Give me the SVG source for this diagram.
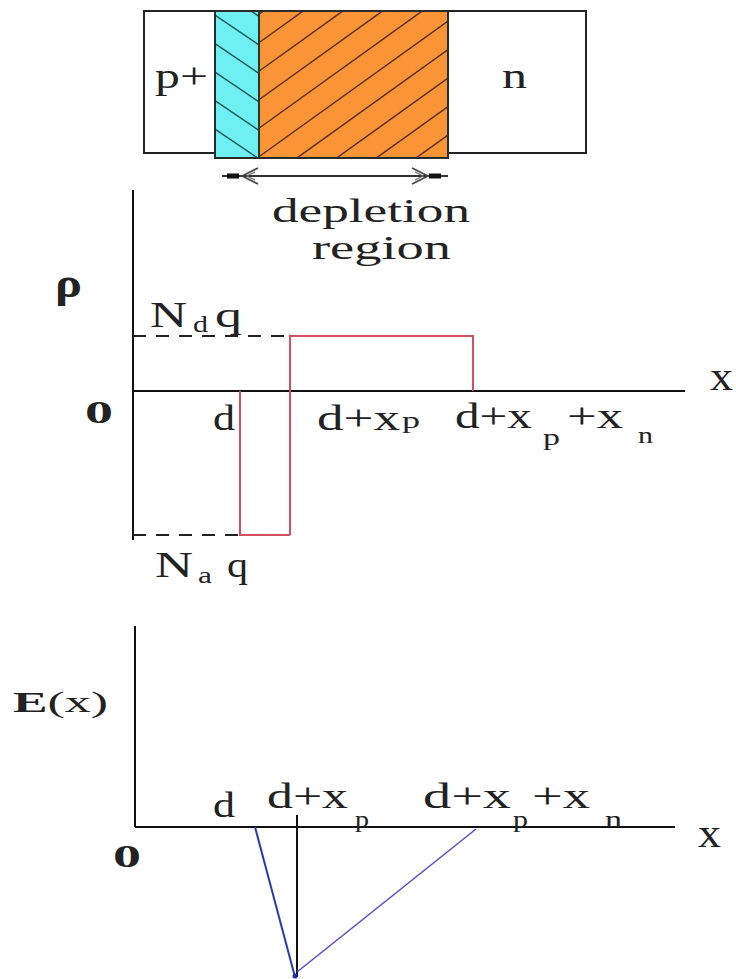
<svg xmlns="http://www.w3.org/2000/svg" width="736" height="979" viewBox="0 0 736 979">
<style>
text{font-family:"Liberation Serif","Times New Roman",serif;fill:#222}
.t{font-size:36px}
.s{font-size:24px}
.b{font-weight:bold}
.ax{stroke:#111;stroke-width:2;fill:none}
.red{stroke:#d2505f;stroke-width:2;fill:none}
.dash{stroke:#222;stroke-width:2;stroke-dasharray:13,10;fill:none}
.hc{stroke:#1b5a5a;stroke-width:1.5}
.ho{stroke:#5a3010;stroke-width:1.5}
</style>
<defs>
<clipPath id="cc"><rect x="215" y="11" width="44" height="147"/></clipPath>
<clipPath id="co"><rect x="259" y="11" width="189" height="147"/></clipPath>
</defs>
<rect width="736" height="979" fill="#fff"/>

<g id="device">
<rect x="144" y="11" width="442" height="142" fill="#fff" stroke="#222" stroke-width="2"/>
<rect x="215" y="11" width="44" height="147" fill="#6ef0f2"/>
<rect x="259" y="11" width="189" height="147" fill="#f99536"/>
<g clip-path="url(#cc)" class="hc">
<line x1="215" y1="-42" x2="259" y2="-12"/>
<line x1="215" y1="-13.5" x2="259" y2="16.5"/>
<line x1="215" y1="15" x2="259" y2="45"/>
<line x1="215" y1="43.5" x2="259" y2="73.5"/>
<line x1="215" y1="72" x2="259" y2="102"/>
<line x1="215" y1="100.5" x2="259" y2="130.5"/>
<line x1="215" y1="129" x2="259" y2="159"/>
<line x1="215" y1="157.5" x2="259" y2="187.5"/>
</g>
<g clip-path="url(#co)" class="ho">
<line x1="260" y1="13.5" x2="448" y2="-121.5"/>
<line x1="260" y1="42" x2="448" y2="-93"/>
<line x1="260" y1="70.5" x2="448" y2="-64.5"/>
<line x1="260" y1="99" x2="448" y2="-36"/>
<line x1="260" y1="127.5" x2="448" y2="-7.5"/>
<line x1="260" y1="156" x2="448" y2="21"/>
<line x1="260" y1="184.5" x2="448" y2="49.5"/>
<line x1="260" y1="213" x2="448" y2="78"/>
<line x1="260" y1="241.5" x2="448" y2="106.5"/>
<line x1="260" y1="270" x2="448" y2="135"/>
<line x1="260" y1="298.5" x2="448" y2="163.5"/>
</g>
<rect x="215" y="11" width="233" height="147" fill="none" stroke="#2a2a2a" stroke-width="2"/>
<line x1="259" y1="11" x2="259" y2="158" stroke="#1f3a30" stroke-width="2"/>
<text class="t" x="155" y="88" textLength="53" lengthAdjust="spacingAndGlyphs">p+</text>
<text class="t" x="502" y="88" textLength="25" lengthAdjust="spacingAndGlyphs">n</text>
</g>

<g id="depletion-arrow">
<line x1="222" y1="176" x2="448" y2="176" stroke="#333" stroke-width="2"/>
<rect x="227" y="173.5" width="12" height="5" fill="#111"/>
<rect x="429" y="173.5" width="12" height="5" fill="#111"/>
<polyline points="258,168 242,176 258,184" fill="none" stroke="#444" stroke-width="1.6"/>
<polyline points="255,172 247,176 255,180" fill="none" stroke="#666" stroke-width="1.2"/>
<polyline points="412,168 428,176 412,184" fill="none" stroke="#444" stroke-width="1.6"/>
<polyline points="415,172 423,176 415,180" fill="none" stroke="#666" stroke-width="1.2"/>
<text x="272" y="222" font-size="33" textLength="198" lengthAdjust="spacingAndGlyphs">depletion</text>
<text x="312" y="259" font-size="33" textLength="139" lengthAdjust="spacingAndGlyphs">region</text>
</g>

<g id="rho-graph">
<line class="ax" x1="133" y1="190" x2="133" y2="540"/>
<line class="ax" x1="133" y1="391" x2="685" y2="391"/>
<line class="dash" x1="133" y1="336" x2="290" y2="336"/>
<line class="dash" x1="133" y1="535" x2="240" y2="535"/>
<polyline class="red" points="290,535 290,336 473,336 473,391"/>
<polyline class="red" points="240,391 240,535 290,535"/>
<text class="b" x="55" y="297" font-size="42" textLength="27" lengthAdjust="spacingAndGlyphs">ρ</text>
<text class="t" x="150" y="327" textLength="37" lengthAdjust="spacingAndGlyphs">N</text>
<text class="s" x="193" y="332" textLength="15" lengthAdjust="spacingAndGlyphs">d</text>
<text class="t" x="215" y="327" textLength="27" lengthAdjust="spacingAndGlyphs">q</text>
<text class="t" x="155" y="577" textLength="38" lengthAdjust="spacingAndGlyphs">N</text>
<text class="s" x="198" y="583" textLength="14" lengthAdjust="spacingAndGlyphs">a</text>
<text class="t" x="227" y="577" textLength="21" lengthAdjust="spacingAndGlyphs">q</text>
<text class="b" x="85" y="423" font-size="32" textLength="28" lengthAdjust="spacingAndGlyphs">0</text>
<text class="t" x="213" y="430" textLength="22" lengthAdjust="spacingAndGlyphs">d</text>
<text class="t" x="317" y="430" textLength="83" lengthAdjust="spacingAndGlyphs">d+x</text>
<text class="s" x="402" y="428" textLength="18" lengthAdjust="spacingAndGlyphs">p</text>
<text class="t" x="455" y="428" textLength="77" lengthAdjust="spacingAndGlyphs">d+x</text>
<text class="s" x="543" y="445" textLength="17" lengthAdjust="spacingAndGlyphs">p</text>
<text class="t" x="567" y="428" textLength="56" lengthAdjust="spacingAndGlyphs">+x</text>
<text class="s" x="638" y="443" textLength="15" lengthAdjust="spacingAndGlyphs">n</text>
<text x="710" y="390" font-size="40" textLength="23" lengthAdjust="spacingAndGlyphs">x</text>
</g>

<g id="field-graph">
<line class="ax" x1="135" y1="626" x2="135" y2="827"/>
<line class="ax" x1="135" y1="827" x2="675" y2="827"/>
<line class="ax" x1="297" y1="815" x2="297" y2="977"/>
<line x1="255" y1="827" x2="295" y2="977" stroke="#2838b0" stroke-width="2"/>
<line x1="297" y1="972" x2="476" y2="829" stroke="#5448d0" stroke-width="1.5"/>
<circle cx="295" cy="976" r="2.5" fill="#2030b0"/>
<text x="13" y="712" font-size="30" textLength="95" lengthAdjust="spacingAndGlyphs"><tspan font-weight="bold">E</tspan>(x)</text>
<text class="b" x="113" y="867" font-size="32" textLength="28" lengthAdjust="spacingAndGlyphs">0</text>
<text class="t" x="213" y="817" textLength="22" lengthAdjust="spacingAndGlyphs">d</text>
<text class="t" x="267" y="808" textLength="81" lengthAdjust="spacingAndGlyphs">d+x</text>
<text class="s" x="355" y="827" textLength="14" lengthAdjust="spacingAndGlyphs">p</text>
<text class="t" x="423" y="808" textLength="88" lengthAdjust="spacingAndGlyphs">d+x</text>
<text class="s" x="513" y="827" textLength="15" lengthAdjust="spacingAndGlyphs">p</text>
<text class="t" x="532" y="808" textLength="58" lengthAdjust="spacingAndGlyphs">+x</text>
<text class="s" x="605" y="827" textLength="17" lengthAdjust="spacingAndGlyphs">n</text>
<text x="698" y="847" font-size="40" textLength="23" lengthAdjust="spacingAndGlyphs">x</text>
</g>
</svg>
